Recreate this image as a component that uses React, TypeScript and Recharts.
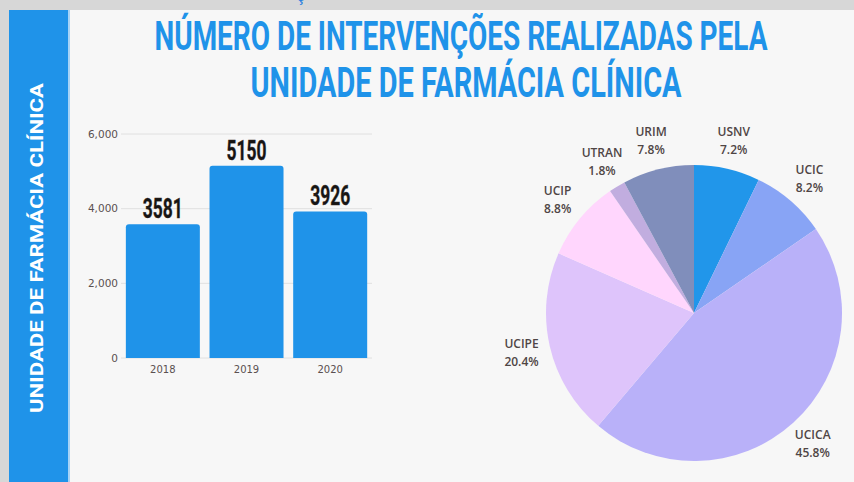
import { BarChart, Bar, XAxis, YAxis, CartesianGrid, LabelList, PieChart, Pie, Cell } from 'recharts';

const years = ['2018', '2019', '2020'];
const interventions = [3581, 5150, 3926];
const yTicks = [0, 2000, 4000, 6000];

const units = ['USNV', 'UCIC', 'UCICA', 'UCIPE', 'UCIP', 'UTRAN', 'URIM'];
const shares = [7.2, 8.2, 45.8, 20.4, 8.8, 1.8, 7.8];
const unitColors = ['#2196ea', '#88a4f5', '#b9b1f9', '#dec4fb', '#ffd6fd', '#c1addf', '#808ebb'];

const barData = years.map((year, i) => ({ year, value: interventions[i] }));
const pieData = units.map((name, i) => ({ name, value: shares[i] }));

const BLUE = '#1f93e9';
const RAD = Math.PI / 180;

const ValueLabel = (props: any) => {
  const { x, y, width, value } = props;
  return (
    <text
      x={x + width / 2}
      y={y - 6}
      textAnchor='middle'
      fontFamily='Roboto, sans-serif'
      fontWeight={700}
      fontSize={27}
      fill='#151515'
      stroke='#3a2a20'
      strokeWidth={0.4}
      textLength={40}
      lengthAdjust='spacingAndGlyphs'
    >
      {value}
    </text>
  );
};

const PieLabel = (props: any) => {
  const { cx, cy, midAngle, outerRadius, name, value } = props;
  const r = outerRadius + 29;
  const x = cx + r * Math.cos(-midAngle * RAD);
  const y = cy + r * Math.sin(-midAngle * RAD);
  return (
    <text x={x} y={y} textAnchor='middle' fontFamily='Open Sans, sans-serif' fontWeight={600} fontSize={12} fill='#4f4545'>
      <tspan x={x} dy={-5}>{name}</tspan>
      <tspan x={x} dy={18}>{value.toFixed(1)}%</tspan>
    </text>
  );
};

const App = () => {
  return (
    <div style={{ position: 'absolute', left: 0, top: 0, width: 854, height: 482, background: '#d7d7d7', overflow: 'hidden' }}>
      <div style={{ position: 'absolute', left: 9, top: 10, width: 845, height: 472, background: '#f7f7f7' }} />
      <div style={{ position: 'absolute', left: 9, top: 10, width: 59, height: 472, background: BLUE }} />
      <div style={{ position: 'absolute', left: 68, top: 10, width: 2, height: 472, background: '#a6d3f6' }} />

      <svg width={854} height={482} style={{ position: 'absolute', left: 0, top: 0 }}>
        <text x={296} y={1} fontFamily='Roboto, sans-serif' fontSize={18} fill='#2a7fe0'>ç</text>
        <text
          x={461}
          y={50}
          textAnchor='middle'
          fontFamily='Roboto, sans-serif'
          fontWeight={700}
          fontSize={40}
          fill={BLUE}
          textLength={613}
          lengthAdjust='spacingAndGlyphs'
        >
          NÚMERO DE INTERVENÇÕES REALIZADAS PELA
        </text>
        <text
          x={466}
          y={97}
          textAnchor='middle'
          fontFamily='Roboto, sans-serif'
          fontWeight={700}
          fontSize={42}
          fill={BLUE}
          textLength={431}
          lengthAdjust='spacingAndGlyphs'
        >
          UNIDADE DE FARMÁCIA CLÍNICA
        </text>
        <text
          transform='translate(43,248) rotate(-90)'
          textAnchor='middle'
          fontFamily='Roboto, sans-serif'
          fontWeight={700}
          fontSize={18}
          fill='#ffffff'
          textLength={330}
          lengthAdjust='spacingAndGlyphs'
        >
          UNIDADE DE FARMÁCIA CLÍNICA
        </text>
      </svg>

      <div style={{ position: 'absolute', left: 70, top: 110 }}>
        <BarChart width={310} height={280} data={barData} margin={{ top: 24, right: 8, bottom: 12, left: 0 }} barCategoryGap='5.8%'>
          <CartesianGrid vertical={false} stroke='#e0e0e0' />
          <XAxis
            dataKey='year'
            axisLine={false}
            tickLine={false}
            height={20}
            tick={{ fontSize: 10, fill: '#5a5050', fontFamily: 'DejaVu Sans, sans-serif' }}
          />
          <YAxis
            width={51}
            domain={[0, 6000]}
            ticks={yTicks}
            axisLine={false}
            tickLine={false}
            tickSize={1}
            tickMargin={2}
            tick={{ fontSize: 10.5, fill: '#5a5050', fontFamily: 'DejaVu Sans, sans-serif' }}
            tickFormatter={(v) => v.toLocaleString('en-US')}
          />
          <Bar dataKey='value' fill={BLUE} radius={[3, 3, 0, 0]} isAnimationActive={false}>
            <LabelList dataKey='value' content={ValueLabel} />
          </Bar>
        </BarChart>
      </div>

      <div style={{ position: 'absolute', left: 480, top: 100 }}>
        <PieChart width={374} height={382}>
          <Pie
            data={pieData}
            dataKey='value'
            nameKey='name'
            cx={209}
            cy={208}
            outerRadius={148}
            startAngle={90}
            endAngle={-270}
            stroke='none'
            label={PieLabel}
            labelLine={false}
            isAnimationActive={false}
          >
            {pieData.map((d, i) => (
              <Cell key={d.name} fill={unitColors[i]} />
            ))}
          </Pie>
        </PieChart>
      </div>
    </div>
  );
};

export default App;
